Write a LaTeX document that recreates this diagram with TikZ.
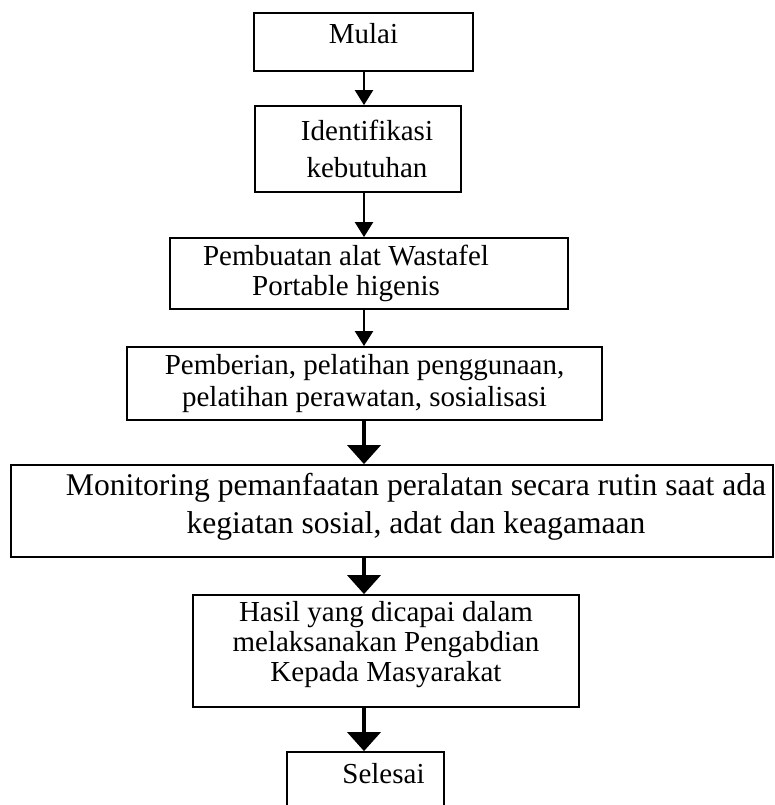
\documentclass[tikz,border=0pt]{standalone}
\usepackage{fontspec}
\setmainfont{Liberation Serif}
\usetikzlibrary{positioning,arrows.meta}

\begin{document}
\begin{tikzpicture}[x=1pt,y=-1pt,
    box/.style={draw,rectangle,line width=1.8pt,align=center,inner sep=2pt,font=\fontsize{29}{30}\selectfont},
    thinarrow/.style={-{Triangle[width=18pt,length=15pt]},line width=2.2pt},
    thickarrow/.style={-{Triangle[width=33pt,length=19pt]},line width=4pt}]

    \useasboundingbox (0,0) rectangle (774,805);
    \clip (0,0) rectangle (774,805);

    % The flow chart
	\node [box, minimum width=219pt, minimum height=58pt, text depth=18pt] at (363.5,42) (mulai) {Mulai};
	\node [box, minimum width=206pt, minimum height=86pt] at (358,149) (ident) {\hspace*{18pt}Identifikasi\\[7pt]\hspace*{18pt}kebutuhan};
	\node [box, minimum width=398pt, minimum height=71pt] at (369,273.5) (buat) {Pembuatan alat Wastafel\hspace*{46pt}\\Portable higenis\hspace*{46pt}};
	\node [box, minimum width=475pt, minimum height=73pt] at (364.5,383.5) (beri) {Pemberian, pelatihan penggunaan,\\[2pt]pelatihan perawatan, sosialisasi};
	\node [box, minimum width=762pt, minimum height=92pt, text depth=16pt, font=\fontsize{31.6}{38}\selectfont] at (392,511) (monitor) {\hspace*{48pt}Monitoring pemanfaatan peralatan secara rutin saat ada\\\hspace*{48pt}kegiatan sosial, adat dan keagamaan};
	\node [box, minimum width=386pt, minimum height=112pt, text depth=20pt] at (386,651) (hasil) {Hasil yang dicapai dalam\\melaksanakan Pengabdian\\Kepada Masyarakat};
	\node [box, minimum width=157pt, minimum height=56pt, text depth=14pt] at (365.5,780) (selesai) {\hspace*{36pt}Selesai};

	\coordinate (axis) at (364,0);

	% Flow chart edges
	\path[thinarrow]
	(mulai.south -| axis) edge (ident.north -| axis)
	(ident.south -| axis) edge (buat.north -| axis)
	(buat.south -| axis) edge (beri.north -| axis);

	\path[thickarrow]
	(beri.south -| axis) edge (monitor.north -| axis)
	(monitor.south -| axis) edge (hasil.north -| axis)
	(hasil.south -| axis) edge (selesai.north -| axis);

\end{tikzpicture}
\end{document}
